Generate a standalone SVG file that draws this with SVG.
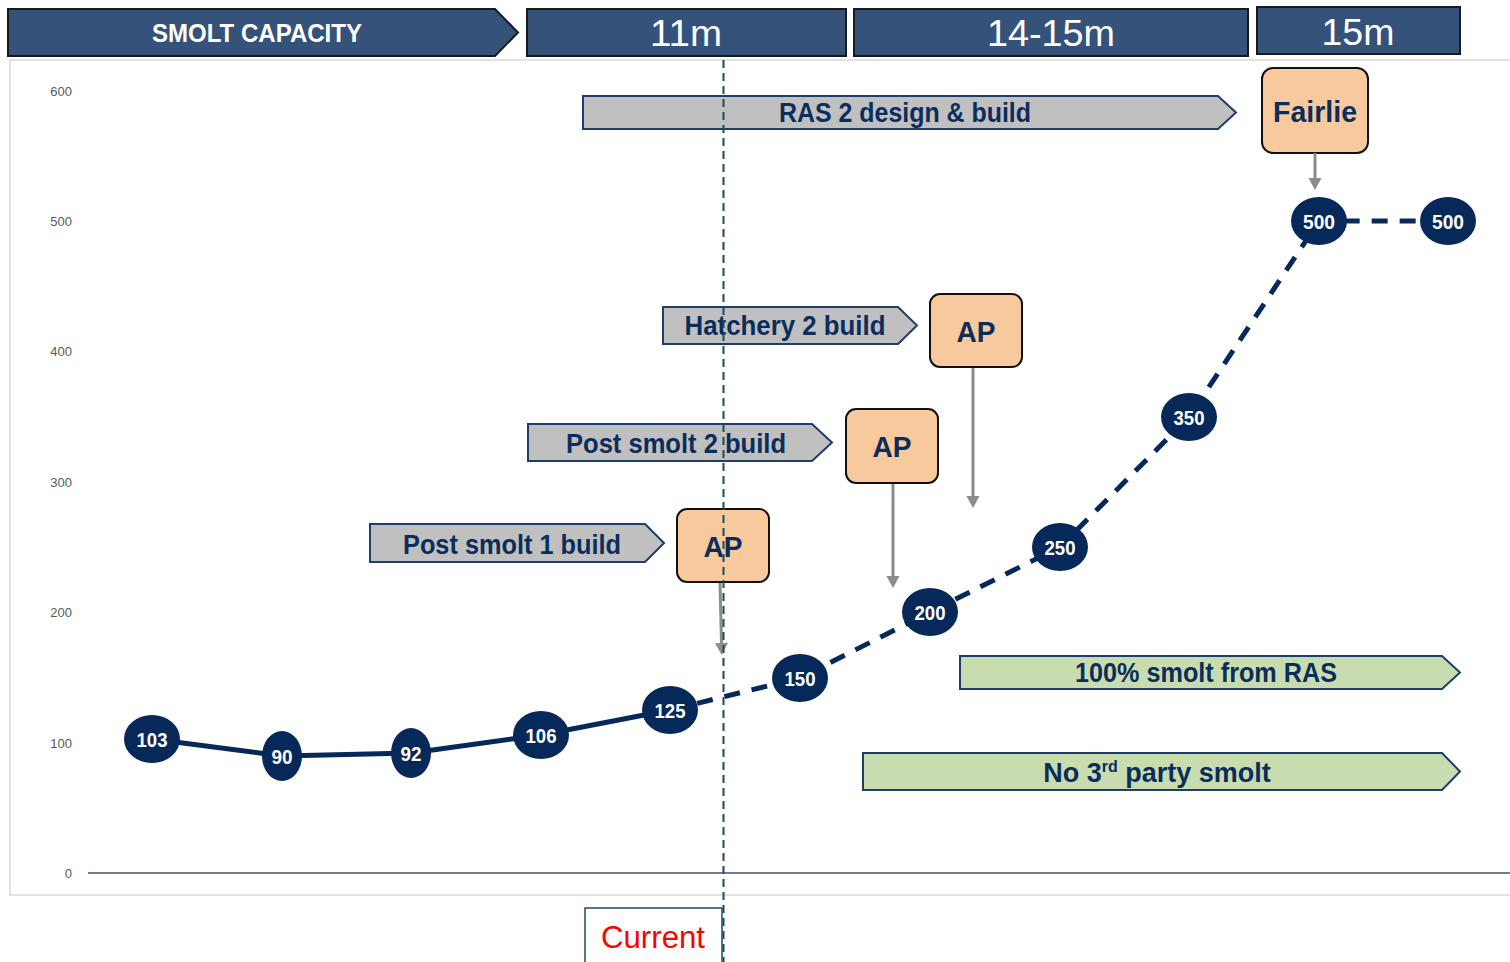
<svg xmlns="http://www.w3.org/2000/svg" width="1510" height="962" viewBox="0 0 1510 962">
<style>
.hdr{fill:#34527a;stroke:#1a1a1a;stroke-width:2}
.hdrt{font-family:"Liberation Sans",Arial,sans-serif;fill:#ffffff;text-anchor:middle}
.bar{fill:#c0c0c0;stroke:#1f3d66;stroke-width:2}
.gbar{fill:#c8dcb0;stroke:#1f3d66;stroke-width:2}
.lbl{font-family:"Liberation Sans",Arial,sans-serif;font-weight:bold;font-size:27px;fill:#0b2d5c;text-anchor:middle}
.ap{fill:#f8c99c;stroke:#111111;stroke-width:2}
.apt{font-family:"Liberation Sans",Arial,sans-serif;font-weight:bold;font-size:30px;fill:#0b2d5c;text-anchor:middle}
.node{fill:#06295a}
.nt{font-family:"Liberation Sans",Arial,sans-serif;font-weight:bold;font-size:21px;fill:#ffffff;text-anchor:middle}
.ax{font-family:"Liberation Sans",Arial,sans-serif;font-size:13px;fill:#595959;text-anchor:end}
.garrow{stroke:#8c8c8c;stroke-width:3;fill:none}
</style>
<defs>
<marker id="ah" markerUnits="userSpaceOnUse" markerWidth="14" markerHeight="16" refX="0" refY="7" orient="auto" viewBox="0 0 14 14" overflow="visible">
<path d="M0,0.5 L12,7 L0,13.5 Z" fill="#8c8c8c"/>
</marker>
</defs>
<rect width="1510" height="962" fill="#ffffff"/>
<!-- chart frame -->
<rect x="10" y="60" width="1510" height="835" fill="#ffffff" stroke="#d9d9d9" stroke-width="1.5"/>
<line x1="88" y1="873" x2="1510" y2="873" stroke="#44506e" stroke-width="1.5"/>
<g id="axis-labels">
<text class="ax" x="72" y="96">600</text>
<text class="ax" x="72" y="226">500</text>
<text class="ax" x="72" y="356">400</text>
<text class="ax" x="72" y="487">300</text>
<text class="ax" x="72" y="617">200</text>
<text class="ax" x="72" y="748">100</text>
<text class="ax" x="72" y="878">0</text>
</g>
<!-- header -->
<g id="hdr-smolt">
<path class="hdr" d="M8,9 H495 L518,32.5 L495,56 H8 Z"/>
<text class="hdrt" x="257" y="42" font-size="25" font-weight="bold" textLength="210" lengthAdjust="spacingAndGlyphs">SMOLT CAPACITY</text>
</g>
<g id="hdr-11m">
<rect class="hdr" x="527" y="9" width="319" height="47"/>
<text class="hdrt" x="686" y="46" font-size="37" textLength="72" lengthAdjust="spacingAndGlyphs">11m</text>
</g>
<g id="hdr-14-15m">
<rect class="hdr" x="854" y="9" width="394" height="47"/>
<text class="hdrt" x="1051" y="46" font-size="37" textLength="128" lengthAdjust="spacingAndGlyphs">14-15m</text>
</g>
<g id="hdr-15m">
<rect class="hdr" x="1257" y="7" width="203" height="47"/>
<text class="hdrt" x="1358" y="45" font-size="37" textLength="73" lengthAdjust="spacingAndGlyphs">15m</text>
</g>
<!-- bars -->
<g id="bar-ras2">
<path class="bar" d="M583,96 H1218 L1236,112.5 L1218,129 H583 Z"/>
<text class="lbl" x="905" y="122" textLength="252" lengthAdjust="spacingAndGlyphs">RAS 2 design &amp; build</text>
</g>
<g id="bar-hatchery2">
<path class="bar" d="M663,307 H898 L917,325.5 L898,344 H663 Z"/>
<text class="lbl" x="785" y="335" textLength="201" lengthAdjust="spacingAndGlyphs">Hatchery 2 build</text>
</g>
<g id="bar-postsmolt2">
<path class="bar" d="M528,424 H812 L832,442.5 L812,461 H528 Z"/>
<text class="lbl" x="676" y="453" textLength="220" lengthAdjust="spacingAndGlyphs">Post smolt 2 build</text>
</g>
<g id="bar-postsmolt1">
<path class="bar" d="M370,524 H645 L664,543 L645,562 H370 Z"/>
<text class="lbl" x="512" y="554" textLength="218" lengthAdjust="spacingAndGlyphs">Post smolt 1 build</text>
</g>
<g id="bar-100ras">
<path class="gbar" d="M960,656 H1442 L1460,672.5 L1442,689 H960 Z"/>
<text class="lbl" x="1206" y="682" textLength="262" lengthAdjust="spacingAndGlyphs">100% smolt from RAS</text>
</g>
<g id="bar-no3rd">
<path class="gbar" d="M863,753 H1442 L1460,771.5 L1442,790 H863 Z"/>
<text class="lbl" x="1157" y="782" font-size="26">No 3<tspan font-size="16" dy="-10">rd</tspan><tspan dy="10"> party smolt</tspan></text>
</g>
<!-- AP boxes -->
<g id="ap1">
<rect class="ap" x="677" y="509" width="92" height="73" rx="10"/>
<text class="apt" x="723" y="557" textLength="39" lengthAdjust="spacingAndGlyphs">AP</text>
</g>
<g id="ap2">
<rect class="ap" x="846" y="409" width="92" height="74" rx="10"/>
<text class="apt" x="892" y="457" textLength="39" lengthAdjust="spacingAndGlyphs">AP</text>
</g>
<g id="ap3">
<rect class="ap" x="930" y="294" width="92" height="73" rx="10"/>
<text class="apt" x="976" y="342" textLength="39" lengthAdjust="spacingAndGlyphs">AP</text>
</g>
<g id="fairlie">
<rect class="ap" x="1262" y="68" width="106" height="85" rx="11"/>
<text class="apt" x="1315" y="122" font-size="32" textLength="84" lengthAdjust="spacingAndGlyphs">Fairlie</text>
</g>
<!-- connectors -->
<g id="connectors">
<polyline points="152,739 282,756 411,753 541,735 670,710" fill="none" stroke="#06295a" stroke-width="5" stroke-linejoin="round"/>
<polyline points="670,710 800,678 930,612 1060,547 1189,417 1319,221 1448,221" fill="none" stroke="#06295a" stroke-width="5" stroke-dasharray="16 12"/>
<line class="garrow" x1="720" y1="583" x2="721.5" y2="643" marker-end="url(#ah)"/>
<line class="garrow" x1="893" y1="484" x2="893" y2="576" marker-end="url(#ah)"/>
<line class="garrow" x1="973" y1="368" x2="973" y2="496" marker-end="url(#ah)"/>
<line class="garrow" x1="1315" y1="153" x2="1315" y2="178" marker-end="url(#ah)"/>
</g>
<!-- data nodes -->
<g id="n103"><ellipse class="node" cx="152" cy="739" rx="28" ry="24"/><text class="nt" x="152" y="747" textLength="31" lengthAdjust="spacingAndGlyphs">103</text></g>
<g id="n90"><ellipse class="node" cx="282" cy="756" rx="20" ry="25"/><text class="nt" x="282" y="764" textLength="21" lengthAdjust="spacingAndGlyphs">90</text></g>
<g id="n92"><ellipse class="node" cx="411" cy="753" rx="20" ry="25"/><text class="nt" x="411" y="761" textLength="21" lengthAdjust="spacingAndGlyphs">92</text></g>
<g id="n106"><ellipse class="node" cx="541" cy="735" rx="28" ry="24"/><text class="nt" x="541" y="743" textLength="31" lengthAdjust="spacingAndGlyphs">106</text></g>
<g id="n125"><ellipse class="node" cx="670" cy="710" rx="28" ry="24"/><text class="nt" x="670" y="718" textLength="31" lengthAdjust="spacingAndGlyphs">125</text></g>
<g id="n150"><ellipse class="node" cx="800" cy="678" rx="28" ry="24"/><text class="nt" x="800" y="686" textLength="31" lengthAdjust="spacingAndGlyphs">150</text></g>
<g id="n200"><ellipse class="node" cx="930" cy="612" rx="28" ry="24"/><text class="nt" x="930" y="620" textLength="31" lengthAdjust="spacingAndGlyphs">200</text></g>
<g id="n250"><ellipse class="node" cx="1060" cy="547" rx="28" ry="24"/><text class="nt" x="1060" y="555" textLength="31" lengthAdjust="spacingAndGlyphs">250</text></g>
<g id="n350"><ellipse class="node" cx="1189" cy="417" rx="28" ry="24"/><text class="nt" x="1189" y="425" textLength="31" lengthAdjust="spacingAndGlyphs">350</text></g>
<g id="n500a"><ellipse class="node" cx="1319" cy="221" rx="28" ry="24"/><text class="nt" x="1319" y="229" textLength="32" lengthAdjust="spacingAndGlyphs">500</text></g>
<g id="n500b"><ellipse class="node" cx="1448" cy="221" rx="28" ry="24"/><text class="nt" x="1448" y="229" textLength="32" lengthAdjust="spacingAndGlyphs">500</text></g>
<!-- current marker -->
<g id="current">
<rect x="585" y="908" width="137" height="70" fill="#ffffff" stroke="#1f4a5c" stroke-width="1.5"/>
<text x="653" y="948" font-family="'Liberation Sans',Arial,sans-serif" font-size="31" fill="#ff0000" text-anchor="middle" textLength="104" lengthAdjust="spacingAndGlyphs">Current</text>
</g>
<line id="current-line" x1="723.5" y1="60" x2="723.5" y2="962" stroke="#1f4a5c" stroke-width="2" stroke-dasharray="8 5"/>
</svg>
